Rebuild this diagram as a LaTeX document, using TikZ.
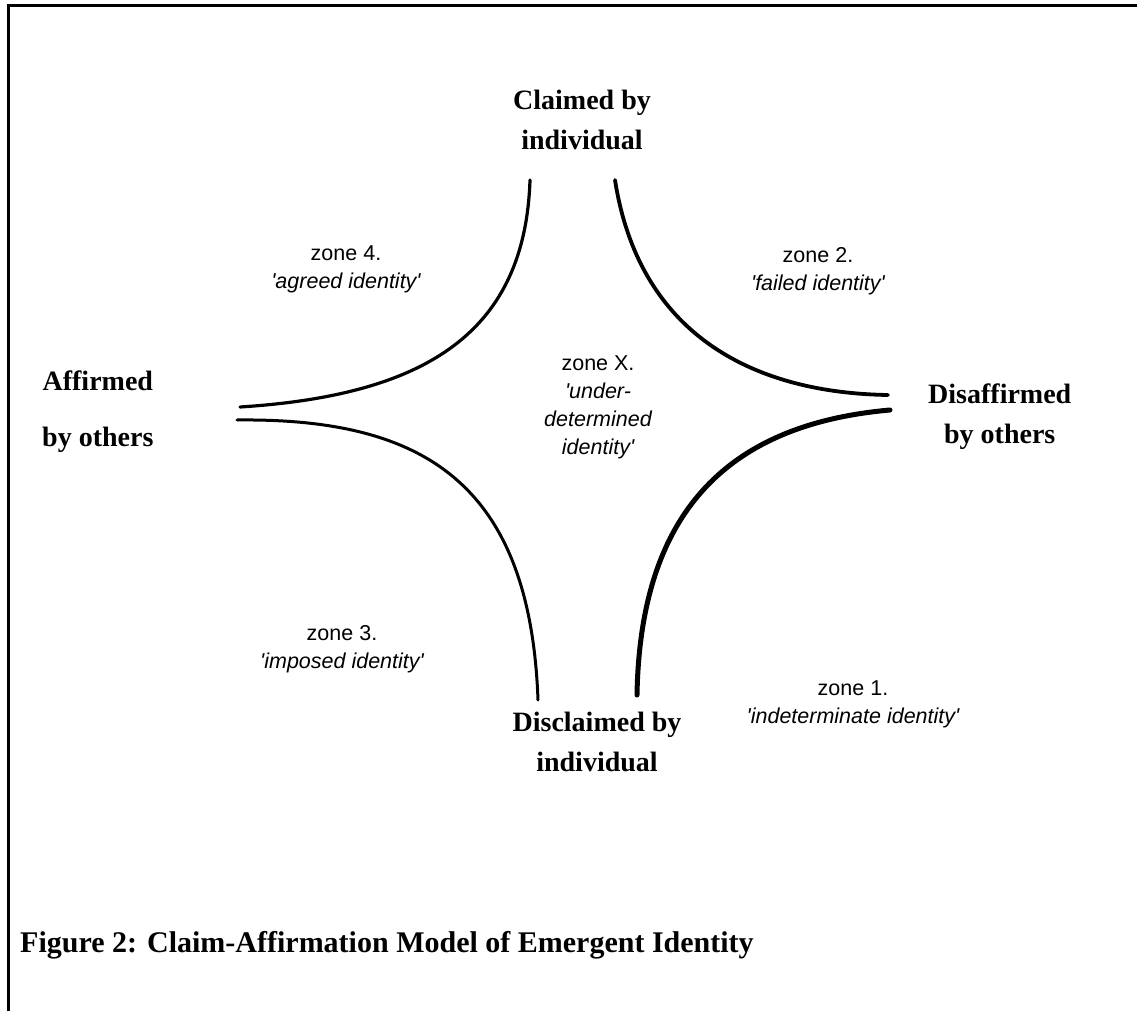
\documentclass[tikz,border=0pt]{standalone}
\usepackage{fontspec}
\setmainfont{Liberation Serif}
\newfontfamily\zonefont{Liberation Sans}
\begin{document}
\begin{tikzpicture}[x=1pt,y=-1pt,
  pole/.style={font=\fontsize{28}{40}\selectfont\bfseries, align=center, inner sep=0pt},
  zone/.style={font=\zonefont\fontsize{21.5}{28}\selectfont, align=center, inner sep=0pt},
  curve/.style={line width=3.2pt, line cap=round},
  frame/.style={line width=3pt}]
\useasboundingbox (0,0) rectangle (1137,1011);
% frame (top and left only)
\coordinate (ftl) at (8,6);
\coordinate (ftr) at (1137,6);
\coordinate (fbl) at (8,1011);
\draw[frame] (ftr) -- (ftl) -- (fbl);

% poles
\node[pole] (claimed) at (582,120) {Claimed by\\individual};
\node[pole] (disclaimed) at (597,742) {Disclaimed by\\individual};
\node[pole, anchor=west] (affirmed) at (42,412) {Affirmed\\[16pt]by others};
\node[pole, anchor=west] (disaffirmed) at (928,417) {Disaffirmed\\by others};

% zones
\node[zone] (z4) at (346,269) {zone 4.\\\itshape 'agreed identity'};
\node[zone] (z2) at (818,271) {zone 2.\\\itshape 'failed identity'};
\node[zone] (zx) at (598,407) {zone X.\\\itshape 'under-\\\itshape determined\\\itshape identity'};
\node[zone] (z3) at (342,649) {zone 3.\\\itshape 'imposed identity'};
\node[zone] (z1) at (853,704) {zone 1.\\\itshape 'indeterminate identity'};

% curve end points
\coordinate (tlA) at (240,407);
\coordinate (tlB) at (530,180);
\coordinate (trA) at (615,180);
\coordinate (trB) at (888,395);
\coordinate (blA) at (237,420);
\coordinate (blB) at (538,700);
\coordinate (brA) at (890,410);
\coordinate (brB) at (637,695);

\draw[curve] (tlA) .. controls (430,395) and (525,330) .. (tlB);
\draw[curve, line width=3.8pt] (trA) .. controls (640,340) and (760,393) .. (trB);
\draw[curve, line width=3pt] (blA) .. controls (420,418) and (530,480) .. (blB);
\draw[curve, line width=5pt] (brA) .. controls (720,425) and (640,520) .. (brB);

% caption
\node[font=\fontsize{30}{34}\selectfont\bfseries, anchor=west, inner sep=0pt] (caption) at (20,945) {Figure 2: Claim-Affirmation Model of Emergent Identity};
\end{tikzpicture}
\end{document}
